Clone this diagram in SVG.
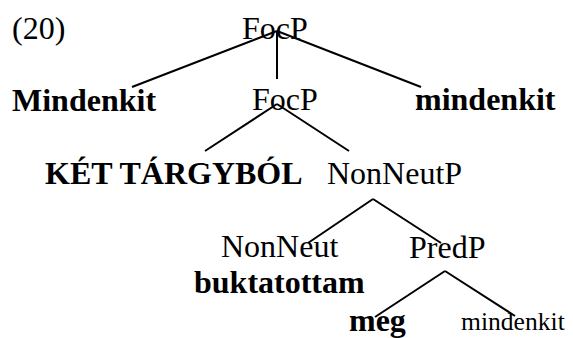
<svg xmlns="http://www.w3.org/2000/svg" width="573" height="338" viewBox="0 0 573 338" font-family="'Liberation Serif', 'Times New Roman', Times, serif">
<style>
text{font-family:'Liberation Serif','Times New Roman',Times,serif;font-size:32px;fill:#000}
.b{font-weight:bold}
.s{font-size:25.6px}
#edges line{stroke:#000;stroke-width:2;stroke-linecap:butt}
</style>
<rect width="573" height="338" fill="#fff"/>
<text id="label" x="12" y="39">(20)</text>
<g id="edges">
<line x1="277" y1="31" x2="132" y2="87"/>
<line x1="277" y1="31" x2="277" y2="79"/>
<line x1="277" y1="31" x2="421" y2="87"/>
<line x1="277" y1="104" x2="205" y2="151"/>
<line x1="277" y1="104" x2="349" y2="151"/>
<line x1="373" y1="199" x2="308" y2="243"/>
<line x1="373" y1="199" x2="441" y2="243"/>
<line x1="445" y1="271" x2="375" y2="317"/>
<line x1="445" y1="271" x2="515" y2="316"/>
</g>
<g id="focp1"><text x="242" y="39">FocP</text></g>
<g id="mindenkit1"><text class="b" x="12" y="111">Mindenkit</text></g>
<g id="focp2"><text x="252" y="110">FocP</text></g>
<g id="mindenkit2"><text class="b" x="415" y="110">mindenkit</text></g>
<g id="ket"><text class="b" x="45" y="184">KÉT TÁRGYBÓL</text></g>
<g id="nonneutp"><text x="327" y="184">NonNeutP</text></g>
<g id="nonneut"><text x="221" y="257">NonNeut</text></g>
<g id="predp"><text x="409" y="258">PredP</text></g>
<g id="buktatottam"><text class="b" x="194" y="293">buktatottam</text></g>
<g id="meg"><text class="b" x="349" y="331">meg</text></g>
<g id="mindenkit3"><text class="s" x="461" y="330">mindenkit</text></g>
</svg>
